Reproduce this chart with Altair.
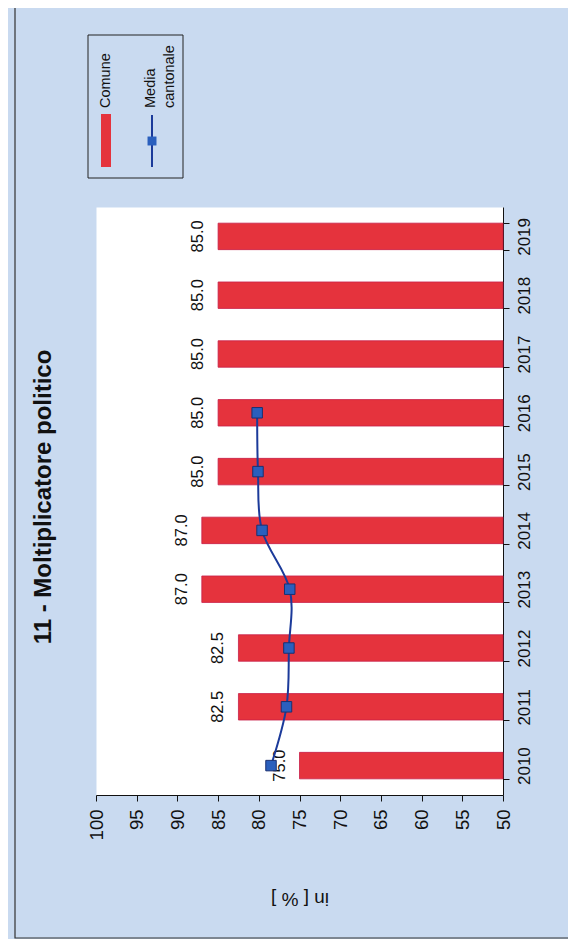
import altair as alt
import pandas as pd

# ---- data ----
years = [2010, 2011, 2012, 2013, 2014, 2015, 2016, 2017, 2018, 2019]
comune = [75.0, 82.5, 82.5, 87.0, 87.0, 85.0, 85.0, 85.0, 85.0, 85.0]
media_years = [2010, 2011, 2012, 2013, 2014, 2015, 2016]
media = [78.5, 76.6, 76.3, 76.2, 79.6, 80.1, 80.2]
value_ticks = [50, 55, 60, 65, 70, 75, 80, 85, 90, 95, 100]
chart_title = "11 - Moltiplicatore politico"
value_axis_title = "in [ % ]"
legend_comune = "Comune"
legend_media = ["Media", "cantonale"]

FONT = "Liberation Sans"
RED = "#e5333d"
BLUE_LINE = "#1b3a9a"
BLUE_PT = "#2a5fbd"
PAPER = "#c9daf0"

W, H = 407, 588

bars_df = pd.DataFrame({"Anno": years, "Comune": comune})
media_df = pd.DataFrame({"Anno": media_years, "Media": media})
one = pd.DataFrame({"k": [0]})

xscale = alt.Scale(domain=[50, 100], reverse=True, zero=False, nice=False)
yscale = alt.Scale(paddingInner=0.55, paddingOuter=0.275)

x_axis = alt.Axis(
    orient="bottom", values=value_ticks, labelAngle=270, labelAlign="right",
    labelBaseline="middle", labelFontSize=18.5, labelFont=FONT, labelColor="#111",
    labelPadding=8, tickSize=6, tickColor="#111", domainColor="#111",
    grid=False, title=value_axis_title, titleAngle=180, titleBaseline="bottom",
    titleFontSize=19, titleFontWeight="normal", titleFont=FONT, titleColor="#111",
    titleY=93,
)
y_axis = alt.Axis(
    orient="right", title=None, labelAngle=270, labelAlign="center",
    labelBaseline="top", labelFontSize=17, labelFont=FONT, labelColor="#111",
    labelPadding=7, tickSize=6, tickColor="#111", domainColor="#111",
    tickBand="extent",
)

X = alt.X("Comune:Q", scale=xscale, axis=x_axis)
Y = alt.Y("Anno:O", sort="descending", scale=yscale, axis=y_axis)

frame = alt.Chart(one).mark_rect(fill="transparent", stroke="#333", strokeWidth=1.2).encode(
    x=alt.value(-81), x2=alt.value(600), y=alt.value(-204), y2=alt.value(731)
)

bars = alt.Chart(bars_df).mark_bar(color=RED, stroke="#c81e48", strokeWidth=0.8).encode(
    x=X, x2=alt.datum(50), y=Y
)

bar_labels = alt.Chart(bars_df).mark_text(
    angle=270, align="center", baseline="bottom", dy=-12, fontSize=16.5, font=FONT, color="#111"
).encode(x=alt.X("Comune:Q"), y=alt.Y("Anno:O", sort="descending"),
         text=alt.Text("Comune:Q", format=".1f"))

line = alt.Chart(media_df).mark_line(color=BLUE_LINE, strokeWidth=2, interpolate="cardinal").encode(
    x=alt.X("Media:Q"), y=alt.Y("Anno:O", sort="descending"), order=alt.Order("Anno:Q")
)
points = alt.Chart(media_df).mark_square(size=110, color=BLUE_PT, stroke="#1a3070",
                                         strokeWidth=1, opacity=1).encode(
    x=alt.X("Media:Q"), y=alt.Y("Anno:O", sort="descending")
)

title_mark = alt.Chart(one).mark_text(
    text=chart_title, angle=270, align="center", baseline="middle",
    fontSize=24, fontWeight="bold", font=FONT, color="#111"
).encode(x=alt.value(-52), y=alt.value(290))

# legend (rotated like the rest of the scan)
leg_box = alt.Chart(one).mark_rect(fill="transparent", stroke="#222", strokeWidth=1).encode(
    x=alt.value(-8), x2=alt.value(87), y=alt.value(-172), y2=alt.value(-29)
)
leg_swatch = alt.Chart(one).mark_rect(color=RED).encode(
    x=alt.value(5), x2=alt.value(15), y=alt.value(-93), y2=alt.value(-40)
)
leg_comune = alt.Chart(one).mark_text(
    text=legend_comune, angle=270, align="left", baseline="middle", fontSize=14.5, font=FONT, color="#111"
).encode(x=alt.value(10), y=alt.value(-99))
leg_line = alt.Chart(one).mark_rule(color=BLUE_LINE, strokeWidth=2).encode(
    x=alt.value(56), y=alt.value(-92), y2=alt.value(-40)
)
leg_pt = alt.Chart(one).mark_square(size=80, color=BLUE_PT, opacity=1).encode(
    x=alt.value(56), y=alt.value(-66)
)
leg_media1 = alt.Chart(one).mark_text(
    text=legend_media[0], angle=270, align="left", baseline="middle", fontSize=14.5, font=FONT, color="#111"
).encode(x=alt.value(55), y=alt.value(-99))
leg_media2 = alt.Chart(one).mark_text(
    text=legend_media[1], angle=270, align="left", baseline="middle", fontSize=14.5, font=FONT, color="#111"
).encode(x=alt.value(74), y=alt.value(-99))

chart = alt.layer(
    frame, bars, bar_labels, line, points, title_mark,
    leg_box, leg_swatch, leg_comune, leg_line, leg_pt, leg_media1, leg_media2
).properties(
    width=W, height=H,
    autosize=alt.AutoSizeParams(type="none"),
    padding={"left": 88, "top": 199, "right": 65, "bottom": 144},
    background=PAPER,
).configure_view(fill="white", stroke="transparent")

chart.save("out.html", embed_options={"renderer": "svg", "actions": False})
